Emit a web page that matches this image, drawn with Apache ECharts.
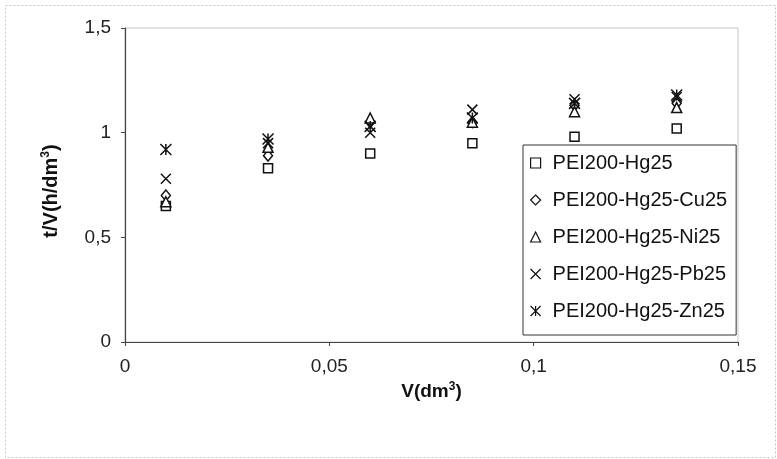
<!DOCTYPE html>
<html><head><meta charset="utf-8">
<script src="https://cdn.jsdelivr.net/npm/echarts@6/dist/echarts.min.js"></script>
<style>html,body{margin:0;padding:0;background:#fff}#c{width:777px;height:459px}</style>
</head><body><div id="c"></div>
<script>
var xValues = [0.01, 0.035, 0.06, 0.085, 0.11, 0.135];
var seriesNames = ['PEI200-Hg25', 'PEI200-Hg25-Cu25', 'PEI200-Hg25-Ni25', 'PEI200-Hg25-Pb25', 'PEI200-Hg25-Zn25'];
var hg25 = [0.65, 0.83, 0.90, 0.95, 0.98, 1.02];
var cu25 = [0.70, 0.89, 1.05, 1.05, 1.13, 1.14];
var ni25 = [0.67, 0.93, 1.07, 1.05, 1.10, 1.12];
var pb25 = [0.78, 0.95, 1.00, 1.11, 1.16, 1.17];
var zn25 = [0.92, 0.97, 1.03, 1.07, 1.14, 1.18];
var xTicks = [0, 0.05, 0.1, 0.15];
var yTicks = [0, 0.5, 1, 1.5];

var FONT = 'Liberation Sans, Arial, sans-serif';
function comma(v){ return String(v).replace('.', ','); }
function pts(arr){ return xValues.map(function(x,i){ return [x, arr[i]]; }); }

var symbols = [
  {symbol: 'rect', size: 9},
  {symbol: 'diamond', size: [9, 11]},
  {symbol: 'triangle', size: [10, 10]},
  {symbol: 'path://M0,0L10,10M10,0L0,10', size: 10},
  {symbol: 'path://M0,0L10,10M10,0L0,10M5,0L5,10', size: 11}
];
var dataSets = [hg25, cu25, ni25, pb25, zn25];

var series = dataSets.map(function(arr, i){
  return {
    name: seriesNames[i],
    type: 'scatter',
    data: pts(arr),
    symbol: symbols[i].symbol,
    symbolSize: symbols[i].size,
    itemStyle: {color: '#ffffff', borderColor: '#111', borderWidth: 1.5, opacity: 1},
    emphasis: {disabled: true},
    z: 3
  };
});

var chart = echarts.init(document.getElementById('c'), null, {renderer: 'canvas'});
chart.setOption({
  animation: false,
  backgroundColor: '#fff',
  grid: {left: 125, right: 39, top: 28, bottom: 117, show: true, borderColor: '#c8c8c8', borderWidth: 1},
  xAxis: {
    type: 'value', min: 0, max: 0.15, interval: 0.05,
    axisLine: {show: true, onZero: false, lineStyle: {color: '#444', width: 1.2}},
    axisTick: {show: true, length: 4, inside: false, lineStyle: {color: '#444'}},
    splitLine: {show: false},
    axisLabel: {formatter: comma, color: '#222', fontFamily: FONT, fontSize: 19, margin: 15},
    name: '{a|V(dm}{s|3}{a|)}',
    nameLocation: 'middle', nameGap: 35,
    nameTextStyle: {rich: {
      a: {fontFamily: FONT, fontSize: 19, fontWeight: 'bold', color: '#111'},
      s: {fontFamily: FONT, fontSize: 12, fontWeight: 'bold', color: '#111', padding: [0, 0, 10, 0]}
    }}
  },
  yAxis: {
    type: 'value', min: 0, max: 1.5, interval: 0.5,
    axisLine: {show: true, onZero: false, lineStyle: {color: '#444', width: 1.2}},
    axisTick: {show: true, length: 4, inside: false, lineStyle: {color: '#444'}},
    splitLine: {show: false},
    axisLabel: {formatter: comma, color: '#222', fontFamily: FONT, fontSize: 19, margin: 14},
    name: '{a|t/V(h/dm}{s|3}{a|)}',
    nameLocation: 'middle', nameGap: 63, nameRotate: 90,
    nameTextStyle: {padding: [0, 12, 0, 0], rich: {
      a: {fontFamily: FONT, fontSize: 20, fontWeight: 'bold', color: '#111'},
      s: {fontFamily: FONT, fontSize: 12, fontWeight: 'bold', color: '#111', padding: [0, 0, 10, 0]}
    }}
  },
  legend: {
    orient: 'vertical', left: 523, top: 145,
    data: seriesNames,
    backgroundColor: '#fff', borderColor: '#333', borderWidth: 1,
    padding: [8, 9, 14, 7],
    itemGap: 17, itemWidth: 10, itemHeight: 10,
    textStyle: {fontFamily: FONT, fontSize: 20, lineHeight: 20, color: '#111', padding: [0, 0, 0, 7]},
    itemStyle: {color: '#fff', borderColor: '#111', borderWidth: 1.2},
    selectedMode: false
  },
  graphic: [{
    type: 'rect', left: 3, top: 3, z: -1,
    shape: {x: 0, y: 0, width: 770, height: 452},
    style: {fill: 'none', stroke: '#c4c4c4', lineWidth: 1, lineDash: [2, 2]}
  }],
  series: series
});
</script></body></html>
